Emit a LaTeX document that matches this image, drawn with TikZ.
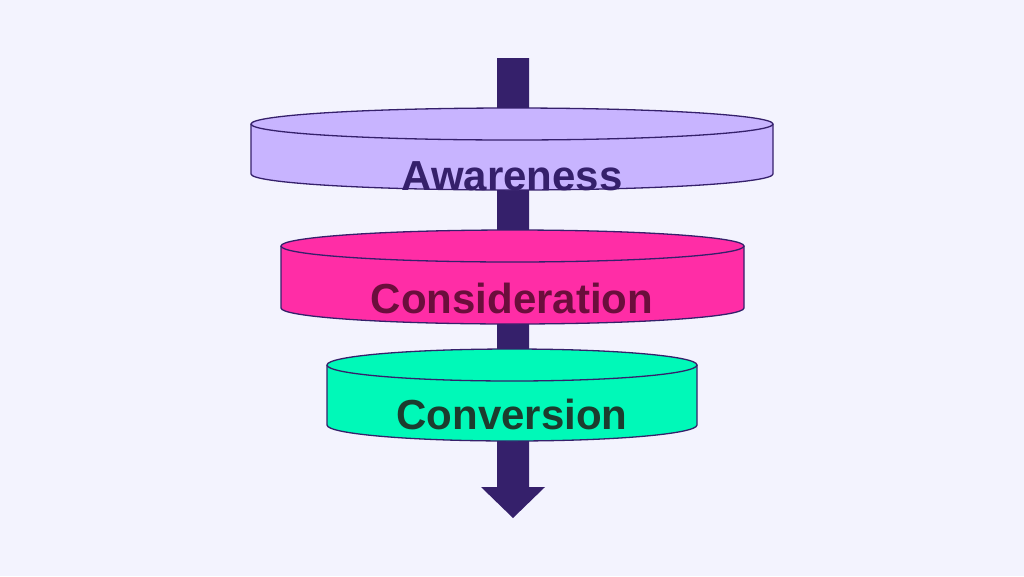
\documentclass[tikz,border=0pt]{standalone}
\usepackage{fontspec}
\setmainfont{Liberation Sans}
\begin{document}
\begin{tikzpicture}[x=1pt,y=-1pt,
  edge/.style={draw=arrowc,line width=1.3pt},
  lbl/.style={font=\bfseries\fontsize{42}{42}\selectfont}]
\definecolor{bg}{HTML}{F3F3FE}
\definecolor{arrowc}{HTML}{35206B}
\definecolor{c1}{HTML}{C8B4FF}
\definecolor{c2}{HTML}{FF2DA6}
\definecolor{c3}{HTML}{00F9B8}
\fill[bg] (0,0) rectangle (1024,576);
\useasboundingbox (0,0) rectangle (1024,576);
% arrow
\coordinate (at) at (513,58);
\coordinate (ab) at (513,518);
\fill[arrowc] (497,58) -- (529,58) -- (529,487) -- (545,487) -- (ab) -- (481,487) -- (497,487) -- cycle;
\tikzset{cyl/.pic={
  \fill[cf] (-\rx,0) -- (-\rx,\hh) arc[start angle=180,end angle=0,x radius=\rx,y radius=\ry] -- (\rx,0) -- cycle;
  \draw[edge] (-\rx,0) -- (-\rx,\hh) arc[start angle=180,end angle=0,x radius=\rx,y radius=\ry] -- (\rx,0);
  \draw[edge,fill=cf] (0,0) ellipse[x radius=\rx,y radius=\ry];
}}
\def\ry{16}
\colorlet{cf}{c1}\def\rx{261}\def\hh{50}
\pic at (512,124) {cyl};
\colorlet{cf}{c2}\def\rx{231.5}\def\hh{62}
\pic at (512.5,246) {cyl};
\colorlet{cf}{c3}\def\rx{185}\def\hh{60}
\pic at (512,365) {cyl};
\node[lbl,text=arrowc] (n1) at (512,176) {Awareness};
\node[lbl,text={rgb,255:red,107;green,14;blue,60}] (n2) at (512,298) {Consideration};
\node[lbl,text={rgb,255:red,28;green,60;blue,46}] (n3) at (512,414) {Conversion};
\end{tikzpicture}
\end{document}
